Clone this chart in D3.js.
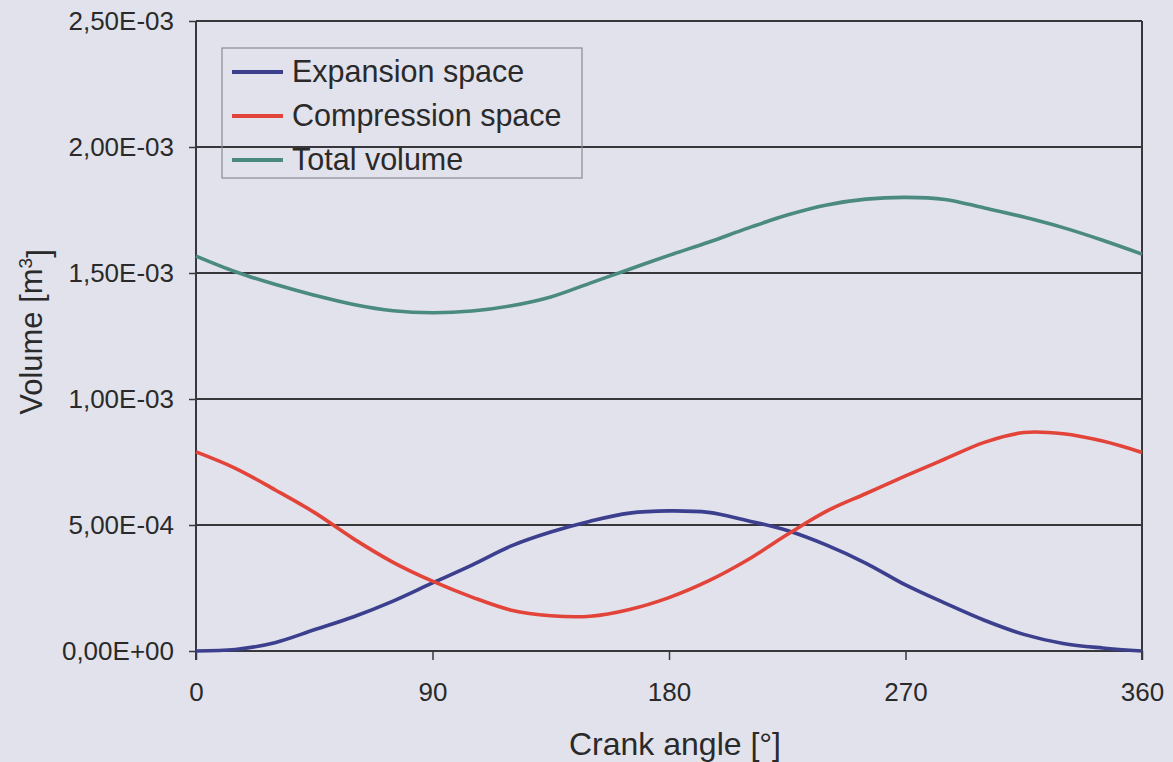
<!DOCTYPE html>
<html>
<head>
<meta charset="utf-8">
<script src="https://cdn.jsdelivr.net/npm/d3@7"></script>
<style>
  html, body { margin: 0; padding: 0; background: #e2e2ec; }
  svg { display: block; }
  text { font-family: "Liberation Sans", Arial, sans-serif; fill: #2a2a2a; }
</style>
</head>
<body>
<svg id="chart" width="1173" height="762"></svg>
<script>
// ---- Data ----
const angles = [0, 15, 30, 45, 60, 75, 90, 105, 120, 135, 150, 165, 180,
                195, 210, 225, 240, 255, 270, 285, 300, 315, 330, 345, 360];
const expansionSpace = [0.00e-4, 0.06e-4, 0.33e-4, 0.84e-4, 1.36e-4, 1.98e-4, 2.70e-4, 3.41e-4, 4.17e-4,
                        4.72e-4, 5.15e-4, 5.47e-4, 5.56e-4, 5.50e-4, 5.17e-4, 4.78e-4, 4.20e-4, 3.48e-4,
                        2.62e-4, 1.90e-4, 1.22e-4, 0.66e-4, 0.30e-4, 0.12e-4, 0.00e-4];
const compressionSpace = [7.90e-4, 7.25e-4, 6.40e-4, 5.50e-4, 4.45e-4, 3.52e-4, 2.77e-4, 2.14e-4, 1.62e-4,
                          1.40e-4, 1.38e-4, 1.65e-4, 2.12e-4, 2.78e-4, 3.62e-4, 4.62e-4, 5.55e-4, 6.25e-4,
                          6.95e-4, 7.62e-4, 8.28e-4, 8.67e-4, 8.62e-4, 8.33e-4, 7.88e-4];
const totalVolume = [15.67e-4, 15.05e-4, 14.55e-4, 14.12e-4, 13.75e-4, 13.50e-4, 13.42e-4, 13.49e-4, 13.70e-4,
                     14.05e-4, 14.60e-4, 15.15e-4, 15.70e-4, 16.22e-4, 16.78e-4, 17.30e-4, 17.70e-4, 17.93e-4,
                     18.00e-4, 17.92e-4, 17.58e-4, 17.22e-4, 16.80e-4, 16.30e-4, 15.75e-4];
const seriesNames = ["Expansion space", "Compression space", "Total volume"];
const seriesColors = ["#3b3f8e", "#e2443a", "#4b8a80"];
const xTicks = [0, 90, 180, 270, 360];
const yTicks = [0, 5e-4, 1e-3, 1.5e-3, 2e-3, 2.5e-3];
const xTitle = "Crank angle [°]";
const yTitle = "Volume [m";

// ---- Layout ----
const svg = d3.select("#chart");
const pLeft = 196, pRight = 1142, pTop = 21, pBottom = 651;

const x = d3.scaleLinear().domain([0, 360]).range([pLeft, pRight]);
const y = d3.scaleLinear().domain([0, 2.5e-3]).range([pBottom, pTop]);

function sciFmt(v) {
  const s = v.toExponential(2);           // e.g. "2.50e-3"
  const [m, e] = s.split("e");
  const sign = e[0] === "-" ? "-" : "+";
  const ex = Math.abs(parseInt(e, 10)).toString().padStart(2, "0");
  return m.replace(".", ",") + "E" + sign + ex;
}

// gridlines
svg.append("g").selectAll("line").data(yTicks).join("line")
  .attr("x1", pLeft).attr("x2", pRight)
  .attr("y1", d => y(d)).attr("y2", d => y(d))
  .attr("stroke", "#38383c").attr("stroke-width", 2);

// y axis
const yAxis = svg.append("g").attr("transform", `translate(${pLeft},0)`)
  .call(d3.axisLeft(y).tickValues(yTicks).tickFormat(sciFmt).tickSize(7).tickPadding(15));
yAxis.select(".domain").attr("stroke", "#38383c").attr("stroke-width", 2)
  .attr("d", `M0,${pTop}V${pBottom + 9}`);
yAxis.selectAll(".tick line").attr("stroke", "#38383c").attr("stroke-width", 1.5);
yAxis.selectAll(".tick text").style("font-size", "26px").attr("fill", "#2a2a2a")
  .style("font-family", '"Liberation Sans", Arial, sans-serif');

// right border
svg.append("line").attr("x1", pRight).attr("x2", pRight).attr("y1", pTop).attr("y2", pBottom + 9)
  .attr("stroke", "#38383c").attr("stroke-width", 2);

// x axis
const xAxis = svg.append("g").attr("transform", `translate(0,${pBottom})`)
  .call(d3.axisBottom(x).tickValues(xTicks).tickFormat(d3.format("d")).tickSize(9).tickPadding(23));
xAxis.select(".domain").remove();
xAxis.selectAll(".tick line").attr("stroke", "#38383c").attr("stroke-width", 1.5);
xAxis.selectAll(".tick text").style("font-size", "26px").attr("fill", "#2a2a2a")
  .style("font-family", '"Liberation Sans", Arial, sans-serif');
svg.append("line").attr("x1", pLeft).attr("x2", pRight).attr("y1", pBottom).attr("y2", pBottom)
  .attr("stroke", "#38383c").attr("stroke-width", 2);

// series lines
const seriesData = [expansionSpace, compressionSpace, totalVolume];
const line = d3.line().x(d => x(d[0])).y(d => y(d[1])).curve(d3.curveCatmullRom.alpha(0.5));
seriesData.forEach((vals, i) => {
  svg.append("path")
    .datum(angles.map((a, j) => [a, vals[j]]))
    .attr("fill", "none")
    .attr("stroke", seriesColors[i])
    .attr("stroke-width", 3.6)
    .attr("stroke-linejoin", "round")
    .attr("d", line);
});

// axis titles
svg.append("text").attr("x", 675).attr("y", 755).attr("text-anchor", "middle")
  .style("font-size", "32px").text(xTitle);
const yt = svg.append("text").attr("transform", "translate(42,332) rotate(-90)")
  .attr("text-anchor", "middle").style("font-size", "31px");
yt.append("tspan").text(yTitle);
yt.append("tspan").attr("dy", "-0.55em").style("font-size", "19px").text("3");
yt.append("tspan").attr("dy", "0.55em").text("]");

// legend
const lg = svg.append("g");
lg.append("rect").attr("x", 222).attr("y", 48).attr("width", 360).attr("height", 130)
  .attr("fill", "none").attr("stroke", "#8a8a90").attr("stroke-width", 1.2);
seriesNames.forEach((name, i) => {
  const cy = 72 + i * 44;
  lg.append("line").attr("x1", 232).attr("x2", 283).attr("y1", cy).attr("y2", cy)
    .attr("stroke", seriesColors[i]).attr("stroke-width", 4);
  lg.append("text").attr("x", 292).attr("y", cy + 10).style("font-size", "30.5px").text(name);
});
</script>
</body>
</html>
